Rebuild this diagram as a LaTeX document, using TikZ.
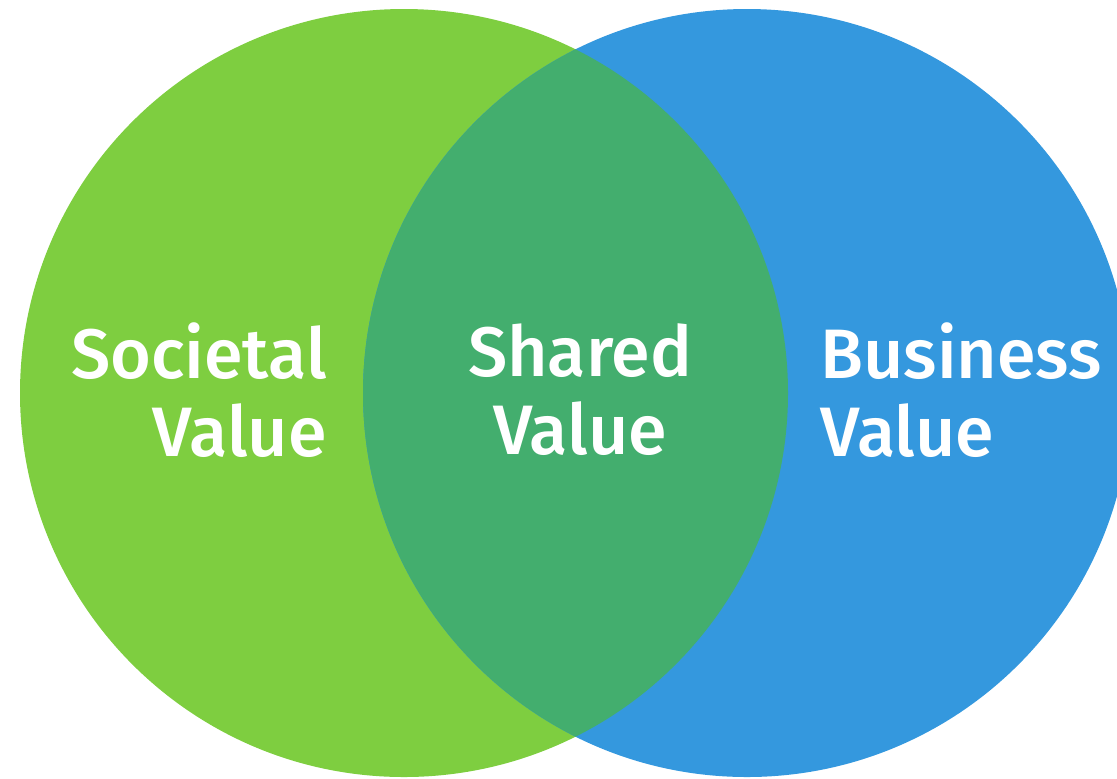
\documentclass[tikz,border=0pt]{standalone}
\usepackage{fontspec}
\newfontfamily\vennfont{Fira Sans Medium}
\definecolor{socgreen}{RGB}{126,206,64}
\definecolor{busblue}{RGB}{52,152,222}
\definecolor{sharedgreen}{RGB}{67,174,110}
\tikzset{
  vennlabel/.style={text=white, inner sep=0pt, font=\vennfont\fontsize{35}{39}\selectfont}
}

\begin{document}
\begin{tikzpicture}[x=0.5pt, y=-0.5pt]
		%%%%% START %%%%%
		\useasboundingbox (0, 0) rectangle (1117, 778);
		
		\fill[socgreen] (404, 393) circle (384);
		\fill[busblue] (747, 393) circle (384);
		
		\begin{scope}
			\clip (404, 393) circle (384);
			\fill[sharedgreen] (747, 393) circle (384);
		\end{scope}
		
		\node[vennlabel, align=right, anchor=east] (societal) at (327, 390) {Societal\\Value};
		\node[vennlabel, align=center, anchor=center] (shared) at (580, 390) {Shared\\Value};
		\node[vennlabel, align=left, anchor=west] (business) at (820, 390) {Business\\Value};
		
		%%%%% END %%%%%
\end{tikzpicture}
\end{document}
